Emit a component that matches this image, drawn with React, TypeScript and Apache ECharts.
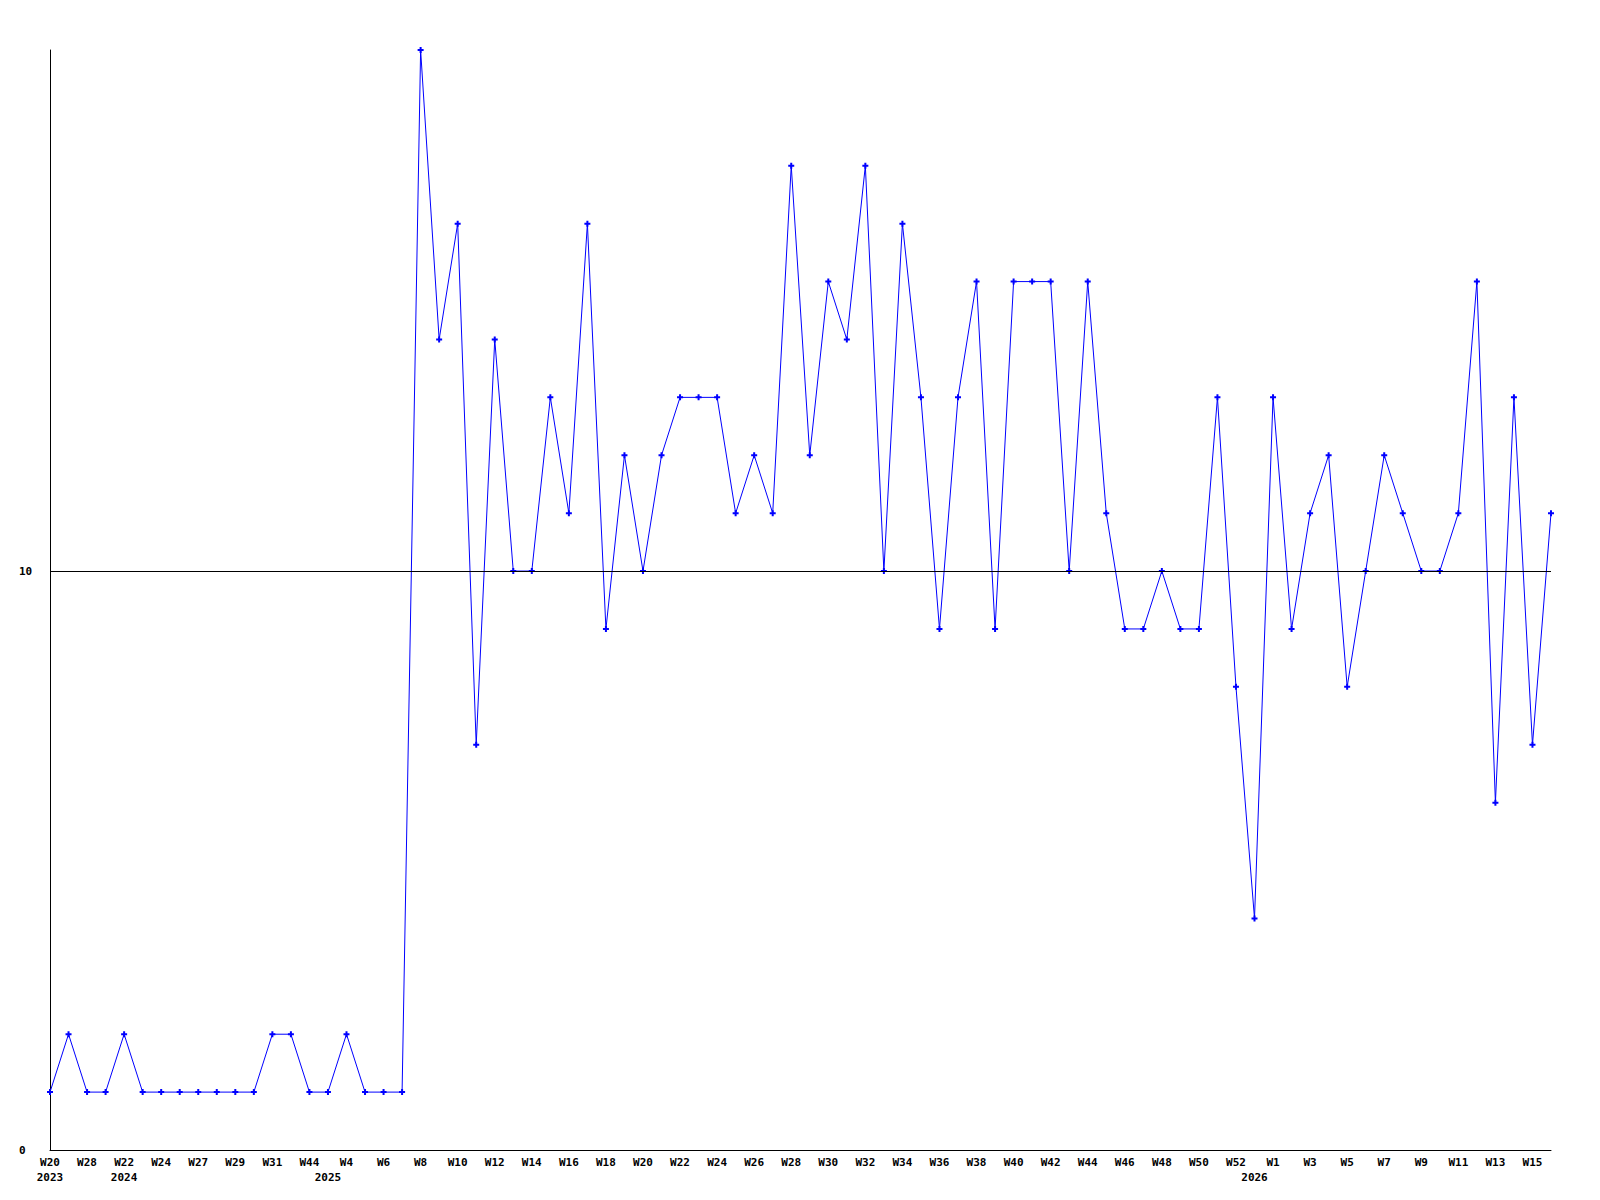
import React, { useEffect, useRef } from "react";
import * as echarts from "echarts";

const weeks: string[] = [
  "W20", "W24", "W28", "W33", "W22", "W23", "W24", "W25", "W27", "W28",
  "W29", "W30", "W31", "W32", "W44", "W3", "W4", "W5", "W6", "W7",
  "W8", "W9", "W10", "W11", "W12", "W13", "W14", "W15", "W16", "W17",
  "W18", "W19", "W20", "W21", "W22", "W23", "W24", "W25", "W26", "W27",
  "W28", "W29", "W30", "W31", "W32", "W33", "W34", "W35", "W36", "W37",
  "W38", "W39", "W40", "W41", "W42", "W43", "W44", "W45", "W46", "W47",
  "W48", "W49", "W50", "W51", "W52", "W53", "W1", "W2", "W3", "W4",
  "W5", "W6", "W7", "W8", "W9", "W10", "W11", "W12", "W13", "W14",
  "W15", "W16",
];

const values: number[] = [
  1, 2, 1, 1, 2, 1, 1, 1, 1, 1,
  1, 1, 2, 2, 1, 1, 2, 1, 1, 1,
  19, 14, 16, 7, 14, 10, 10, 13, 11, 16,
  9, 12, 10, 12, 13, 13, 13, 11, 12, 11,
  17, 12, 15, 14, 17, 10, 16, 13, 9, 13,
  15, 9, 15, 15, 15, 10, 15, 11, 9, 9,
  10, 9, 9, 13, 8, 4, 13, 9, 11, 12,
  8, 10, 12, 11, 10, 10, 11, 15, 6, 13,
  7, 11,
];

const yearIndex: number[] = [0, 4, 15, 65];
const yearText: string[] = ["2023", "2024", "2025", "2026"];

const referenceLevel = 10;
const yMax = 19;

const FONT = "'DejaVu Sans Mono', 'Liberation Mono', monospace";

export default function App() {
  const ref = useRef<HTMLDivElement>(null);

  useEffect(() => {
    if (!ref.current) return;
    const chart = echarts.init(ref.current, undefined, { renderer: "svg" });
    chart.setOption({
      animation: false,
      backgroundColor: "#ffffff",
      grid: { left: 50, right: 49, top: 50, bottom: 50, containLabel: false },
      xAxis: {
        type: "category",
        data: weeks,
        boundaryGap: false,
        axisLine: { show: true, lineStyle: { color: "#000000", width: 1 } },
        axisTick: { show: false },
        splitLine: { show: false },
        axisLabel: {
          interval: 0,
          margin: 5,
          color: "#000000",
          fontFamily: FONT,
          fontWeight: "bold",
          fontSize: 11,
          lineHeight: 15,
          formatter: (value: string, index: number) => {
            const wk = index % 2 === 0 ? value : "";
            const yi = yearIndex.indexOf(index);
            if (yi >= 0) return wk + "\n" + yearText[yi];
            return wk;
          },
        },
      },
      yAxis: {
        type: "value",
        min: 0,
        max: yMax,
        interval: 10,
        axisLine: { show: true, lineStyle: { color: "#000000", width: 1 } },
        axisTick: { show: false },
        splitLine: { show: false },
        axisLabel: {
          showMaxLabel: false,
          align: "left",
          margin: 31,
          color: "#000000",
          fontFamily: FONT,
          fontWeight: "bold",
          fontSize: 11,
        },
      },
      series: [
        {
          type: "line",
          data: values,
          symbol: "path://M2,0H4V2H6V4H4V6H2V4H0V2H2Z",
          symbolSize: 6,
          showAllSymbol: true,
          clip: false,
          lineStyle: { color: "#0000ff", width: 1 },
          itemStyle: { color: "#0000ff" },
          markLine: {
            silent: true,
            symbol: "none",
            label: { show: false },
            lineStyle: { color: "#000000", width: 1, type: "solid" },
            data: [{ yAxis: referenceLevel }],
          },
          z: 3,
        },
      ],
    });
    return () => chart.dispose();
  }, []);

  return (
    <div
      ref={ref}
      style={{ position: "fixed", left: 0, top: 0, width: 1600, height: 1200 }}
    />
  );
}
